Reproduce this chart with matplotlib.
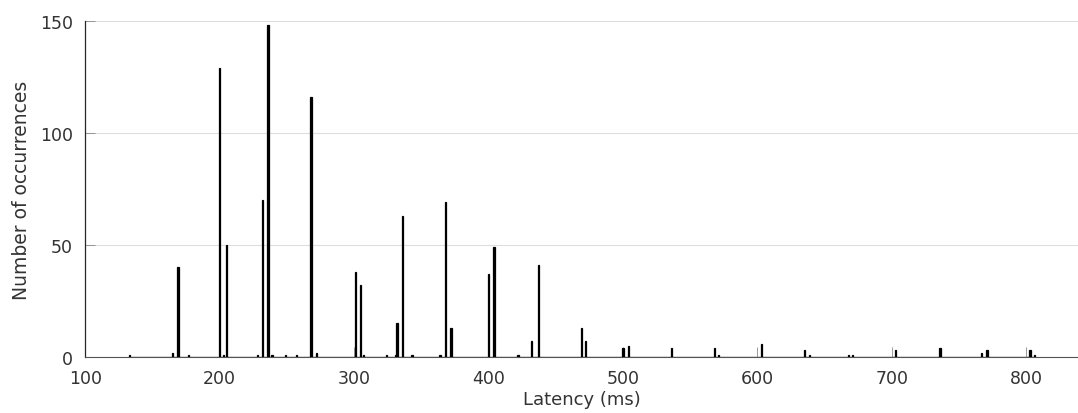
import numpy as np
import matplotlib
matplotlib.use("Agg")
import matplotlib.pyplot as plt

# latency bins (ms) with non-zero counts
latency = [133, 165, 169, 177, 200, 203, 205, 228, 232, 236, 239, 249, 257,
           268, 272, 301, 305, 307, 324, 331, 332, 336, 343, 364, 368, 372,
           400, 404, 422, 432, 437, 469, 472, 500, 504, 536, 568, 571, 603,
           635, 639, 668, 671, 703, 736, 767, 771, 803, 806]
counts = [1, 2, 40, 1, 129, 1, 50, 1, 70, 148, 1, 1, 1,
          116, 2, 38, 32, 1, 1, 1, 15, 63, 1, 1, 69, 13,
          37, 49, 1, 7, 41, 13, 7, 4, 5, 4, 4, 1, 6,
          3, 1, 1, 1, 3, 4, 2, 3, 3, 1]

x_ticks = [100, 200, 300, 400, 500, 600, 700, 800]
y_ticks = [0, 50, 100, 150]

# full 1 ms histogram (empty bins drawn as the flat baseline, like MATLAB)
bins = np.arange(min(latency), max(latency) + 1)
hist = np.zeros(len(bins))
hist[np.array(latency) - bins[0]] = counts

axis_col = "#262626"
label_col = "#333333"

fig = plt.figure(figsize=(10.78, 4.14), dpi=100)
ax = fig.add_axes([0.0791, 0.1353, 0.9209, 0.8116])

ax.grid(axis="y", color="#dedede", linewidth=0.8)
ax.set_axisbelow(True)
ax.bar(bins, hist, width=1.0, color="black", edgecolor="black", linewidth=0.9,
       zorder=3)

ax.set_xlim(100, 838.6)
ax.set_ylim(0, 150)
ax.set_xticks(x_ticks)
ax.set_yticks(y_ticks)

for side in ["top", "right"]:
    ax.spines[side].set_visible(False)
ax.spines["left"].set_color(axis_col)
ax.spines["bottom"].set_color("#555555")
ax.spines["left"].set_linewidth(0.9)
ax.spines["bottom"].set_linewidth(0.8)

ax.tick_params(direction="in", length=7.5, width=0.6, color="#8a8a8a",
               labelcolor=label_col, labelsize=12.5)
ax.tick_params(axis="y", pad=9)
ax.tick_params(axis="x", pad=9)

ax.set_xlabel("Latency (ms)", fontsize=13, color=label_col, labelpad=1.5)
ax.set_ylabel("Number of occurrences", fontsize=13.5, color=label_col, labelpad=6)

fig.savefig("out.png", dpi=100)
